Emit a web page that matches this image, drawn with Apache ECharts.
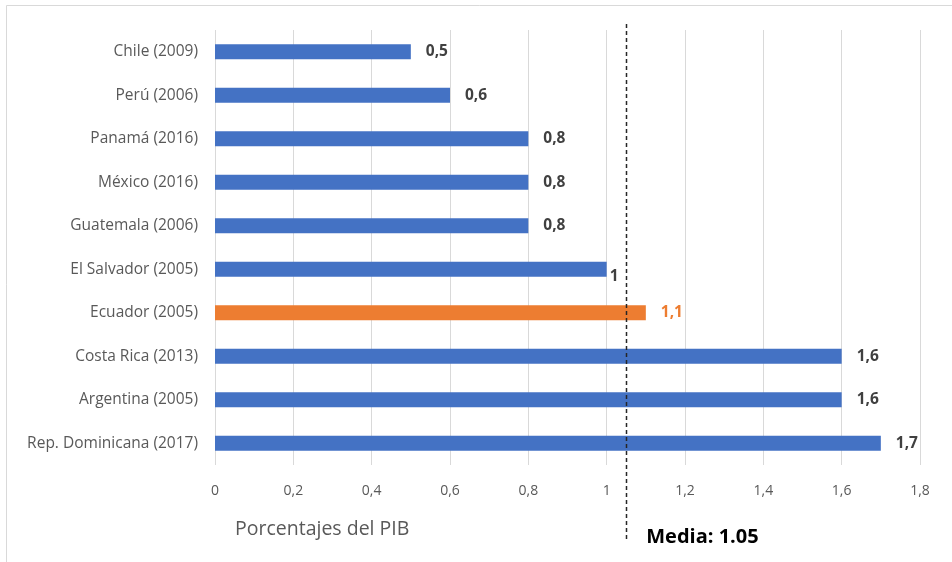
<!DOCTYPE html>
<html>
<head>
<meta charset="utf-8">
<script src="https://cdn.jsdelivr.net/npm/echarts@6/dist/echarts.min.js"></script>
<style>
  html, body { margin: 0; padding: 0; background: #fff; }
  #chart { width: 952px; height: 562px; }
</style>
</head>
<body>
<div id="chart"></div>
<script>
// Gasto en I+D por país (porcentaje del PIB), de arriba hacia abajo
const countries = [
  'Chile (2009)', 'Perú (2006)', 'Panamá (2016)', 'México (2016)', 'Guatemala (2006)',
  'El Salvador (2005)', 'Ecuador (2005)', 'Costa Rica (2013)', 'Argentina (2005)', 'Rep. Dominicana (2017)'
];
const values = [0.5, 0.6, 0.8, 0.8, 0.8, 1, 1.1, 1.6, 1.6, 1.7];
const highlighted = 'Ecuador (2005)';
const mean = 1.05;
const xTicks = [0, 0.2, 0.4, 0.6, 0.8, 1, 1.2, 1.4, 1.6, 1.8];

const BLUE = '#4472C4';
const ORANGE = '#ED7D31';
const FONT = '"Open Sans", "Noto Sans", sans-serif';

const comma = v => String(v).replace('.', ',');

const barData = countries.map((c, i) => {
  const isHi = c === highlighted;
  const item = {
    value: values[i],
    itemStyle: { color: isHi ? ORANGE : BLUE },
    label: { color: isHi ? ORANGE : '#404040' }
  };
  // the "1" label sits just past the bar end, nudged down
  if (c === 'El Salvador (2005)') item.label.offset = [-12, 7];
  return item;
});

const chart = echarts.init(document.getElementById('chart'), null, { renderer: 'canvas' });

chart.setOption({
  animation: false,
  backgroundColor: '#fff',
  grid: { left: 215, right: 32, top: 30, bottom: 97, containLabel: false },
  xAxis: {
    type: 'value',
    min: 0, max: 1.8, interval: 0.2,
    axisLine: { show: false },
    axisTick: { show: false },
    splitLine: { show: true, lineStyle: { color: '#d9d9d9', width: 1 } },
    axisLabel: {
      color: '#595959', fontFamily: FONT, fontSize: 14, margin: 19,
      formatter: v => comma(+v.toFixed(1))
    },
    name: 'Porcentajes del PIB',
    nameLocation: 'start',
    nameGap: 0,
    nameTextStyle: {
      color: '#595959', fontFamily: FONT, fontSize: 19.5,
      align: 'left', verticalAlign: 'top', padding: [54, 0, 0, 20]
    }
  },
  yAxis: {
    type: 'category',
    data: countries,
    inverse: true,
    axisLine: { show: false },
    axisTick: { show: false },
    splitLine: { show: false },
    axisLabel: { color: '#595959', fontFamily: FONT, fontSize: 15.5, margin: 17 }
  },
  series: [{
    type: 'bar',
    data: barData,
    barWidth: 15,
    label: {
      show: true,
      position: 'right',
      distance: 15,
      fontFamily: FONT,
      fontSize: 15.5,
      fontWeight: 'bold',
      formatter: p => comma(p.value)
    }
  }]
});

// Mean reference line, extended past the plot area down to its caption
function drawMean() {
  const x = chart.convertToPixel({ xAxisIndex: 0 }, mean);
  chart.setOption({
    graphic: [
      {
        type: 'rect', silent: true, z: -1,
        shape: { x: 6.5, y: 5.5, width: 960, height: 570 },
        style: { fill: 'none', stroke: '#d9d9d9', lineWidth: 1 }
      },
      {
        type: 'line', silent: true, z: 10,
        shape: { x1: Math.round(x) + 0.5, y1: 24, x2: Math.round(x) + 0.5, y2: 540 },
        style: { stroke: '#262626', lineWidth: 1.5, lineDash: [4, 3] }
      },
      {
        type: 'text', silent: true, z: 10,
        x: x + 20, y: 537,
        style: {
          text: 'Media: ' + mean.toFixed(2),
          fill: '#000', font: 'bold 20px ' + FONT,
          verticalAlign: 'middle', align: 'left'
        }
      }
    ]
  });
}
drawMean();
</script>
</body>
</html>
